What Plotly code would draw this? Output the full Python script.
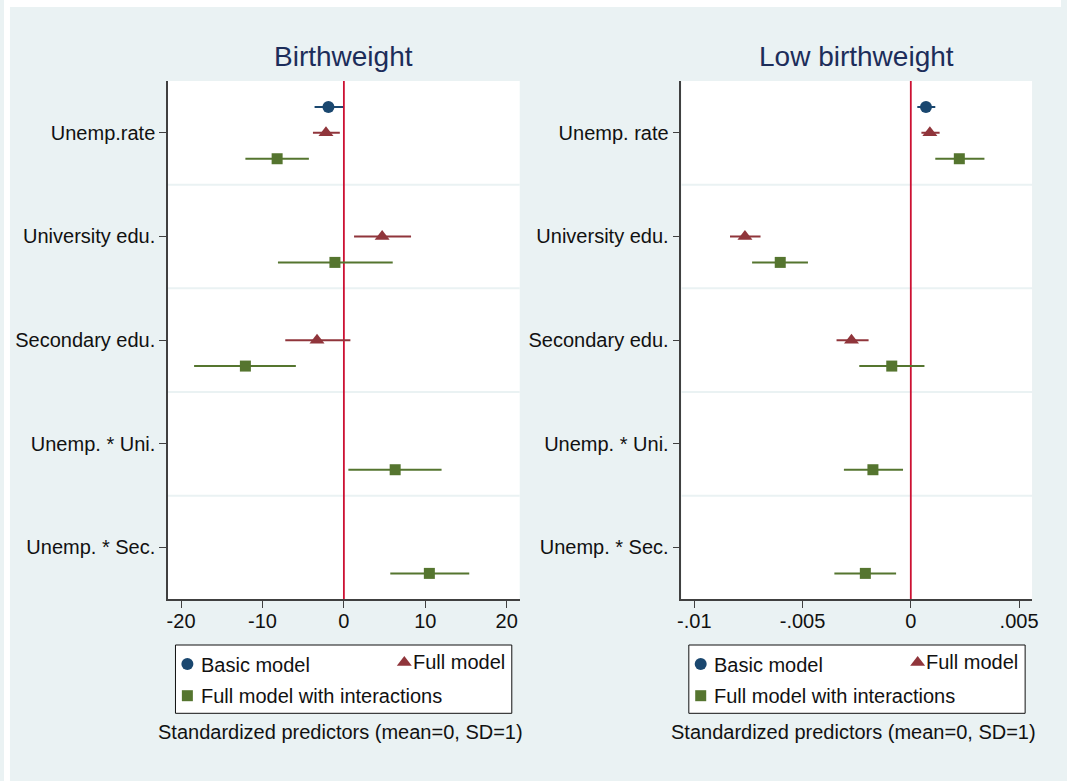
import plotly.graph_objects as go

# ---------------- data ----------------
categories_bw = ["Unemp.rate", "University edu.", "Secondary edu.", "Unemp. * Uni.", "Unemp. * Sec."]
categories_lbw = ["Unemp. rate", "University edu.", "Secondary edu.", "Unemp. * Uni.", "Unemp. * Sec."]
models = ["Basic model", "Full model", "Full model with interactions"]

# Birthweight panel: coefficient, lower CI, upper CI (None = not in model)
bw_basic = [-1.9, None, None, None, None]
bw_basic_lo = [-3.6, None, None, None, None]
bw_basic_hi = [-0.1, None, None, None, None]

bw_full = [-2.2, 4.7, -3.3, None, None]
bw_full_lo = [-3.8, 1.25, -7.2, None, None]
bw_full_hi = [-0.5, 8.25, 0.8, None, None]

bw_inter = [-8.2, -1.1, -12.1, 6.3, 10.5]
bw_inter_lo = [-12.1, -8.1, -18.4, 0.55, 5.7]
bw_inter_hi = [-4.3, 6.0, -5.9, 12.0, 15.4]

# Low birthweight panel
lbw_basic = [0.0007, None, None, None, None]
lbw_basic_lo = [0.0003, None, None, None, None]
lbw_basic_hi = [0.00113, None, None, None, None]

lbw_full = [0.00088, -0.00766, -0.00274, None, None]
lbw_full_lo = [0.00049, -0.00835, -0.00343, None, None]
lbw_full_hi = [0.00133, -0.00694, -0.00195, None, None]

lbw_inter = [0.00224, -0.00603, -0.00088, -0.00175, -0.0021]
lbw_inter_lo = [0.00113, -0.00733, -0.00238, -0.00309, -0.00353]
lbw_inter_hi = [0.0034, -0.00475, 0.00063, -0.00036, -0.00068]

bw_ticks = [-20, -10, 0, 10, 20]
bw_ticktext = ["-20", "-10", "0", "10", "20"]
lbw_ticks = [-0.01, -0.005, 0, 0.005]
lbw_ticktext = ["-.01", "-.005", "0", ".005"]

panel_titles = ["Birthweight", "Low birthweight"]
axis_title = "Standardized predictors (mean=0, SD=1)"

# ---------------- style ----------------
W, H = 1067, 781
BG = "#EAF2F3"
COLORS = ["#1A476F", "#90353B", "#55752F"]
SYMBOLS = ["circle", "triangle-up", "square"]
SIZES = [12, 13, 11]
OFFSETS = [-0.25, 0.0, 0.25]
FONT = "Liberation Sans, Arial, sans-serif"
REDLINE = "#CC1133"
AXCOL = "#404040"
TXT = "#111111"
FS = 20


def px_x(p):
    return p / W


def px_y(p):
    return 1 - p / H


ydom = [px_y(599.3), px_y(81)]
xdom1 = [px_x(165.6), px_x(520.6)]
xdom2 = [px_x(683.8), px_x(1037.8)]

fig = go.Figure()


def add_series(coef, lo, hi, k, xa, ya):
    xs, ys, ep, em = [], [], [], []
    for i, c in enumerate(coef):
        if c is None:
            continue
        xs.append(c)
        ys.append(i + 1 + OFFSETS[k])
        ep.append(hi[i] - c)
        em.append(c - lo[i])
    fig.add_trace(go.Scatter(
        x=xs, y=ys, mode="markers", xaxis=xa, yaxis=ya, showlegend=False,
        marker=dict(symbol=SYMBOLS[k], size=SIZES[k], color=COLORS[k], line=dict(width=0)),
        error_x=dict(type="data", symmetric=False, array=ep, arrayminus=em,
                     width=0, thickness=2, color=COLORS[k]),
        name=models[k], cliponaxis=False,
    ))


add_series(bw_basic, bw_basic_lo, bw_basic_hi, 0, "x", "y")
add_series(bw_full, bw_full_lo, bw_full_hi, 1, "x", "y")
add_series(bw_inter, bw_inter_lo, bw_inter_hi, 2, "x", "y")
add_series(lbw_basic, lbw_basic_lo, lbw_basic_hi, 0, "x2", "y2")
add_series(lbw_full, lbw_full_lo, lbw_full_hi, 1, "x2", "y2")
add_series(lbw_inter, lbw_inter_lo, lbw_inter_hi, 2, "x2", "y2")

shapes = []
# white outer border strips
shapes.append(dict(type="rect", xref="paper", yref="paper", x0=0, x1=px_x(6), y0=0, y1=1,
                   fillcolor="white", line=dict(width=0), layer="below"))
shapes.append(dict(type="rect", xref="paper", yref="paper", x0=0, x1=1, y0=px_y(7), y1=1,
                   fillcolor="white", line=dict(width=0), layer="below"))

for xa, ya in [("x", "y"), ("x2", "y2")]:
    shapes.append(dict(type="rect", xref=xa + " domain", yref=ya + " domain", x0=0, x1=1, y0=0, y1=1,
                       fillcolor="white", line=dict(width=0), layer="below"))
    for b in [1.5, 2.5, 3.5, 4.5]:
        shapes.append(dict(type="line", xref=xa + " domain", yref=ya, x0=0, x1=1, y0=b, y1=b,
                           line=dict(color=BG, width=2), layer="below"))
    shapes.append(dict(type="line", xref=xa, yref=ya + " domain", x0=0, x1=0, y0=0, y1=1,
                       line=dict(color=REDLINE, width=1.8), layer="below"))

annotations = []
panel_px = [(165.6, 520.6), (683.8, 1037.8)]
key_pos = [(19.5, 664), (238.5, 662.5), (19.5, 695.7)]
for p, (l, r) in enumerate(panel_px):
    cx = (l + r) / 2
    annotations.append(dict(x=px_x(cx), y=px_y(56), xref="paper", yref="paper", text=panel_titles[p],
                            showarrow=False, font=dict(size=28, color="#1C2D5A", family=FONT),
                            xanchor="center", yanchor="middle"))
    annotations.append(dict(x=px_x(cx - 3), y=px_y(732), xref="paper", yref="paper", text=axis_title,
                            showarrow=False, font=dict(size=FS, color=TXT, family=FONT),
                            xanchor="center", yanchor="middle"))
    bx0 = l + 7.5
    bx1 = l + 347
    shapes.append(dict(type="rect", xref="paper", yref="paper", x0=px_x(bx0), x1=px_x(bx1),
                       y0=px_y(713.3), y1=px_y(645), fillcolor="white",
                       line=dict(color=TXT, width=1), layer="below"))
    # legend texts
    annotations.append(dict(x=px_x(l + 31), y=px_y(665), xref="paper", yref="paper", text=models[0],
                            showarrow=False, font=dict(size=FS, color=TXT, family=FONT),
                            xanchor="left", yanchor="middle"))
    annotations.append(dict(x=px_x(l + 245), y=px_y(662), xref="paper", yref="paper", text=models[1],
                            showarrow=False, font=dict(size=FS, color=TXT, family=FONT),
                            xanchor="left", yanchor="middle"))
    annotations.append(dict(x=px_x(l + 31), y=px_y(696), xref="paper", yref="paper", text=models[2],
                            showarrow=False, font=dict(size=FS, color=TXT, family=FONT),
                            xanchor="left", yanchor="middle"))
    # legend keys on overlay pixel axis, one solid trace per key
    for k in range(3):
        fig.add_trace(go.Scatter(
            x=[l + key_pos[k][0]], y=[key_pos[k][1]], mode="markers",
            xaxis="x3", yaxis="y3", showlegend=False, hoverinfo="skip", cliponaxis=False,
            opacity=1,
            marker=dict(symbol=SYMBOLS[k], size=SIZES[k], color=COLORS[k], opacity=1,
                        line=dict(width=0)),
        ))

common_x = dict(showgrid=False, zeroline=False, showline=True, linecolor=AXCOL, linewidth=1.5,
                ticks="outside", ticklen=7, tickwidth=1.2, tickcolor=AXCOL,
                tickfont=dict(size=FS, color=TXT, family=FONT), mirror=False,
                ticklabelstandoff=-4)
common_y = dict(showgrid=False, zeroline=False, showline=True, linecolor=AXCOL, linewidth=1.5,
                ticks="outside", ticklen=7, tickwidth=1.2, tickcolor=AXCOL,
                tickfont=dict(size=FS, color=TXT, family=FONT), mirror=False,
                range=[5.5, 0.5], tickvals=[1, 2, 3, 4, 5], domain=ydom)

fig.update_layout(
    width=W, height=H, margin=dict(l=0, r=0, t=0, b=0),
    paper_bgcolor=BG, plot_bgcolor="rgba(0,0,0,0)",
    font=dict(family=FONT),
    xaxis=dict(common_x, domain=xdom1, anchor="y", range=[-21.6, 21.6],
               tickvals=bw_ticks, ticktext=bw_ticktext),
    yaxis=dict(common_y, anchor="x", ticktext=categories_bw),
    xaxis2=dict(common_x, domain=xdom2, anchor="y2", range=[-0.010595, 0.0056],
                tickvals=lbw_ticks, ticktext=lbw_ticktext),
    yaxis2=dict(common_y, anchor="x2", ticktext=categories_lbw),
    xaxis3=dict(domain=[0, 1], anchor="y3", range=[0, W], visible=False, fixedrange=True),
    yaxis3=dict(domain=[0, 1], anchor="x3", range=[H, 0], visible=False, fixedrange=True),
    shapes=shapes, annotations=annotations, showlegend=False,
)

fig.write_html(
    "out.html",
    post_script="document.documentElement.style.overflow='hidden';document.body.style.margin='0';document.body.style.overflow='hidden';",
)
